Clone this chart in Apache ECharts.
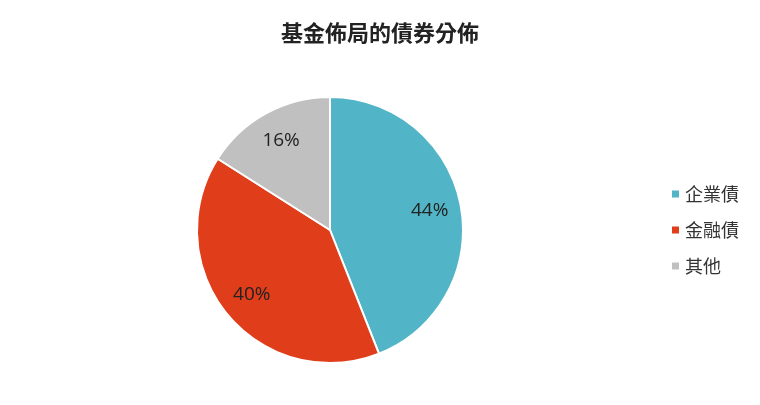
<!DOCTYPE html>
<html>
<head>
<meta charset="utf-8">
<script src="https://cdn.jsdelivr.net/npm/echarts@6/dist/echarts.min.js"></script>
<style>
    html, body {margin: 0; padding: 0; background: #fff;}
    #chart {width: 760px; height: 405px;}
</style>
</head>
<body>
<div id="chart"></div>
<script>
var categories = ['企業債', '金融債', '其他'];
var shares = [44, 40, 16];
var colors = ['#52b5c7', '#e03d1b', '#c0c0c0'];

var myfont = '"Open Sans", "Noto Sans CJK TC", sans-serif';

var seriesData = [];
var labelData = [];
for (var i = 0; i < categories.length; i++) {
    seriesData.push({name: categories[i], value: shares[i], itemStyle: {color: colors[i]}});
    labelData.push({name: categories[i], value: shares[i]});
}

var dom = document.getElementById('chart');
var myChart = echarts.init(dom, null, {renderer: 'canvas'});
var option = {
    animation: false,
    title: {
        text: '基金佈局的債券分佈',
        left: 'center',
        top: 17,
        textStyle: {
            fontFamily: '"Noto Sans CJK TC", sans-serif',
            fontSize: 22,
            fontWeight: 'bold',
            color: '#222'
        }
    },
    legend: {
        orient: 'vertical',
        left: 665,
        top: 180,
        itemWidth: 9,
        itemHeight: 9,
        itemGap: 18,
        icon: 'rect',
        data: categories,
        textStyle: {
            fontFamily: '"Noto Sans CJK TC", sans-serif',
            fontSize: 18,
            color: '#333'
        }
    },
    series: [
        {
            type: 'pie',
            radius: [0, 133],
            center: [330, 230],
            startAngle: 90,
            clockwise: true,
            data: seriesData,
            itemStyle: {borderColor: '#fff', borderWidth: 2},
            label: {show: false},
            labelLine: {show: false}
        },
        { // labels only, ring puts text at ~3/4 radius
            type: 'pie',
            radius: [64, 133],
            center: [330, 230],
            startAngle: 90,
            clockwise: true,
            silent: true,
            data: labelData,
            itemStyle: {color: 'rgba(0,0,0,0)'},
            label: {
                show: true,
                position: 'inside',
                formatter: '{c}%',
                fontFamily: myfont,
                fontSize: 19,
                color: '#222'
            },
            labelLine: {show: false}
        }
    ]
};

if (option && typeof option === "object") {
    myChart.setOption(option, true);
}
</script>
</body>
</html>
